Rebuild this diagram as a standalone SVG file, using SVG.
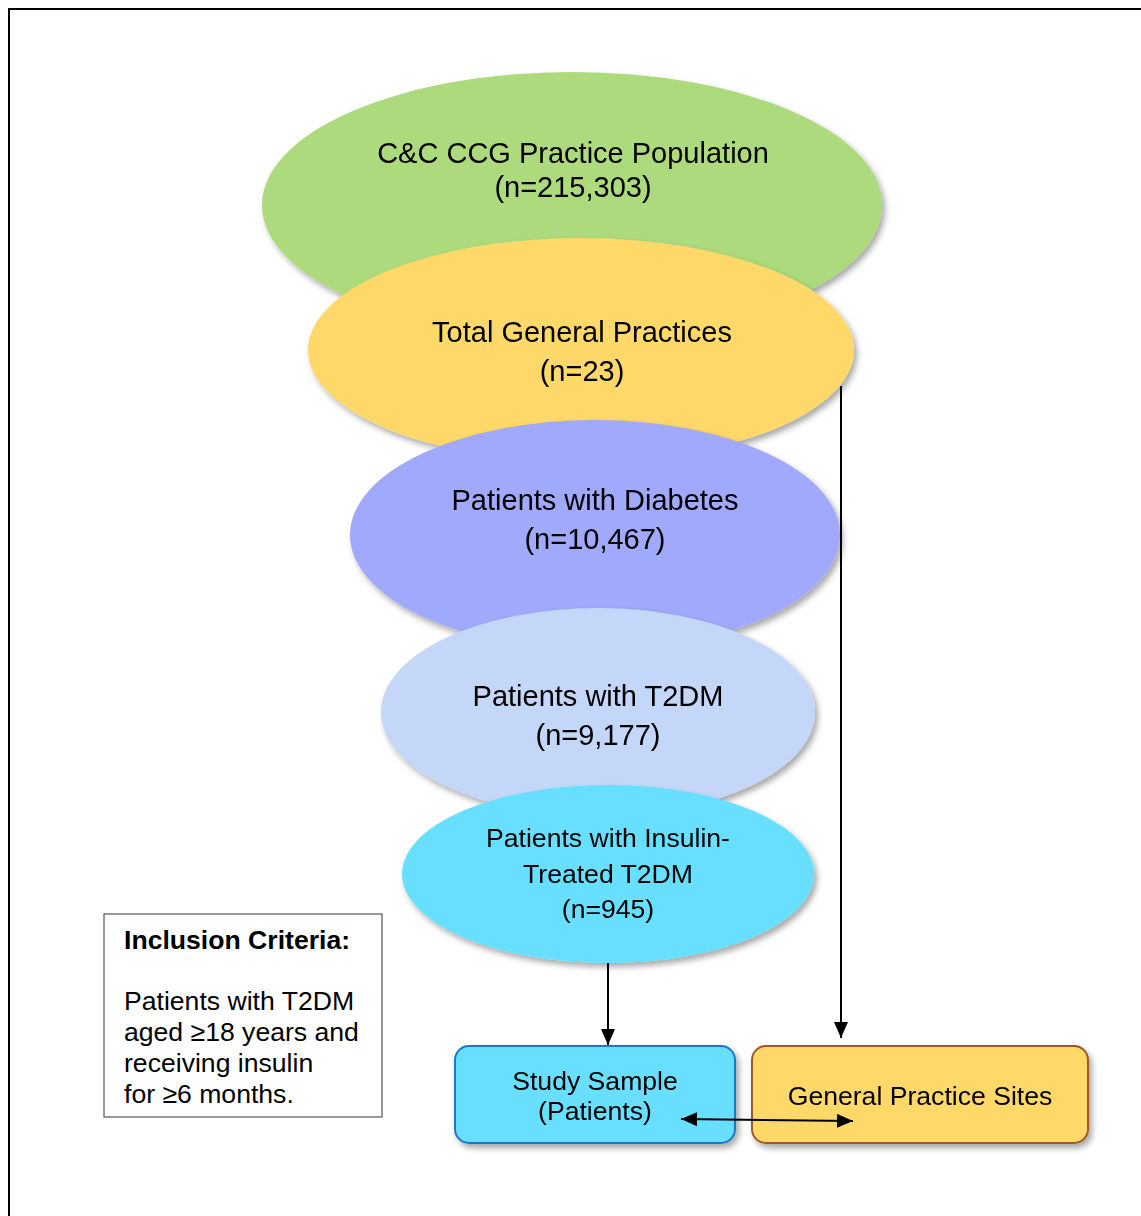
<svg xmlns="http://www.w3.org/2000/svg" width="1141" height="1216" viewBox="0 0 1141 1216">
  <defs>
    <filter id="shadow" x="-10%" y="-10%" width="125%" height="130%">
      <feGaussianBlur in="SourceAlpha" stdDeviation="3"/>
      <feOffset dx="3" dy="4" result="b"/>
      <feComponentTransfer><feFuncA type="linear" slope="0.35"/></feComponentTransfer>
      <feMerge><feMergeNode/><feMergeNode in="SourceGraphic"/></feMerge>
    </filter>
    <marker id="head" viewBox="0 0 16 14" refX="16" refY="7" markerWidth="16" markerHeight="14" orient="auto-start-reverse" markerUnits="userSpaceOnUse">
      <path d="M0,0 L16,7 L0,14 z" fill="#000"/>
    </marker>
  </defs>
  <style>
    text { font-family: "Liberation Sans", Arial, sans-serif; fill: #000; }
    .lbl { font-size: 29px; text-anchor: middle; }
    .lbl-s { font-size: 26.6px; text-anchor: middle; }
    .crit { font-size: 26.6px; }
    .conn { stroke: #000; stroke-width: 2; fill: none; }
  </style>

  <rect width="1141" height="1216" fill="#fff"/>
  <!-- page frame -->
  <path d="M9,1216 V9 H1141" fill="none" stroke="#000" stroke-width="2"/>

  <g id="population" filter="url(#shadow)">
    <ellipse cx="572" cy="205" rx="310" ry="133" fill="#acda7c"/>
    <text class="lbl" x="573" y="163">C&amp;C CCG Practice Population</text>
    <text class="lbl" x="573" y="197">(n=215,303)</text>
  </g>

  <g id="practices" filter="url(#shadow)">
    <ellipse cx="581" cy="350" rx="273" ry="112" fill="#fed969"/>
    <text class="lbl" x="582" y="342">Total General Practices</text>
    <text class="lbl" x="582" y="381">(n=23)</text>
  </g>

  <g id="diabetes" filter="url(#shadow)">
    <ellipse cx="595" cy="535" rx="245" ry="115" fill="#a0a9fb"/>
    <text class="lbl" x="595" y="510">Patients with Diabetes</text>
    <text class="lbl" x="595" y="549">(n=10,467)</text>
  </g>

  <g id="t2dm" filter="url(#shadow)">
    <ellipse cx="598" cy="712" rx="217" ry="104" fill="#c4d7f8"/>
    <text class="lbl" x="598" y="706">Patients with T2DM</text>
    <text class="lbl" x="598" y="745">(n=9,177)</text>
  </g>

  <g id="insulin" filter="url(#shadow)">
    <ellipse cx="608" cy="874" rx="206" ry="89" fill="#67dfff"/>
    <text class="lbl-s" x="608" y="847">Patients with Insulin-</text>
    <text class="lbl-s" x="608" y="883">Treated T2DM</text>
    <text class="lbl-s" x="608" y="918">(n=945)</text>
  </g>

  <g id="criteria">
    <rect x="104" y="914" width="278" height="203" fill="#fff" stroke="#555" stroke-width="1.2"/>
    <text class="crit" x="124" y="949" font-weight="bold">Inclusion Criteria:</text>
    <text class="crit" x="124" y="1010">Patients with T2DM</text>
    <text class="crit" x="124" y="1041">aged ≥18 years and</text>
    <text class="crit" x="124" y="1072">receiving insulin</text>
    <text class="crit" x="124" y="1103">for ≥6 months.</text>
  </g>

  <g id="sample" filter="url(#shadow)">
    <rect x="455" y="1046" width="280" height="97" rx="14" fill="#67dfff" stroke="#1f78c8" stroke-width="2"/>
    <text class="lbl-s" x="595" y="1090">Study Sample</text>
    <text class="lbl-s" x="595" y="1120">(Patients)</text>
  </g>

  <g id="sites" filter="url(#shadow)">
    <rect x="752" y="1046" width="336" height="97" rx="14" fill="#fed969" stroke="#a0592a" stroke-width="2"/>
    <text class="lbl-s" x="920" y="1105">General Practice Sites</text>
  </g>

  <g id="connectors">
    <line class="conn" x1="608" y1="963" x2="608" y2="1045" marker-end="url(#head)"/>
    <line class="conn" x1="841" y1="386" x2="841" y2="1038" marker-end="url(#head)"/>
    <line class="conn" x1="681" y1="1119" x2="853" y2="1121" marker-start="url(#head)" marker-end="url(#head)"/>
  </g>
</svg>
